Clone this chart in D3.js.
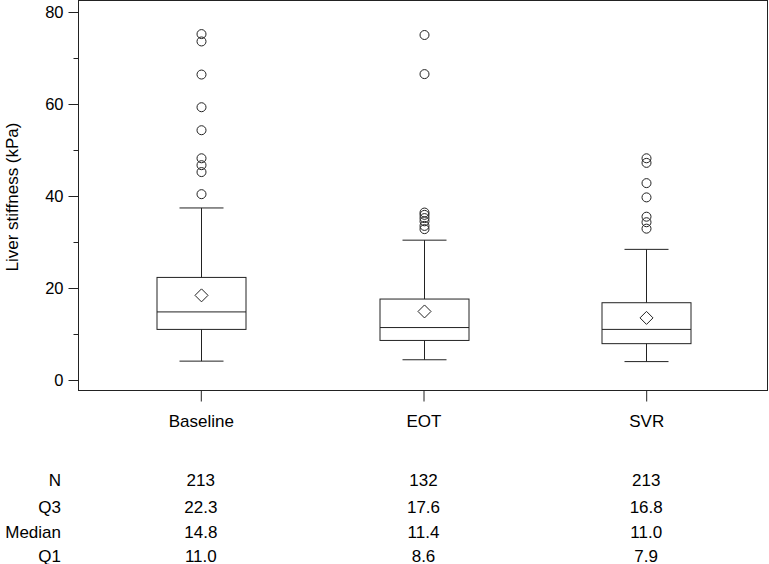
<!DOCTYPE html>
<html>
<head>
<meta charset="utf-8">
<script src="https://cdn.jsdelivr.net/npm/d3@7"></script>
<style>
  body { margin: 0; background: #fff; }
  text { font-family: "Liberation Sans", Arial, sans-serif; fill: #000; }
</style>
</head>
<body>
<div id="chart"></div>
<script>
// values
var categories = ["Baseline", "EOT", "SVR"];
var nValues = [213, 132, 213];
var q3Values = [22.3, 17.6, 16.8];
var medianValues = [14.8, 11.4, 11.0];
var q1Values = [11.0, 8.6, 7.9];
var whiskerHigh = [37.4, 30.4, 28.4];
var whiskerLow = [4.1, 4.4, 4.0];
var meanValues = [18.4, 14.9, 13.5];
var outliersBaseline = [75.2, 73.6, 66.4, 59.3, 54.3, 48.2, 46.7, 45.2, 40.4];
var outliersEOT = [75.0, 66.5, 36.4, 35.9, 35.2, 34.5, 33.5, 32.8];
var outliersSVR = [48.2, 47.2, 42.8, 39.7, 35.5, 34.3, 32.9];
var yTicks = [0, 20, 40, 60, 80];
var yMinorTicks = [10, 30, 50, 70];
var tableRows = ["N", "Q3", "Median", "Q1"];

var svgWidth = 769;
var svgHeight = 564;

var margin = { top: 1, right: 1, bottom: 173, left: 79 };
var width = svgWidth - margin.left - margin.right;
var height = svgHeight - margin.top - margin.bottom;

var svg = d3.select("#chart")
  .append("svg")
  .attr("width", svgWidth)
  .attr("height", svgHeight);

var chartGroup = svg.append("g")
  .attr("transform", `translate(${margin.left}, ${margin.top})`);

var xScale = d3.scalePoint()
  .domain(categories)
  .range([0, width])
  .padding(0.547);

var yScale = d3.scaleLinear()
  .domain([0, 80])
  .range([379, 11]);

var lineColor = "#222";
var fontSize = "17px";

// frame
chartGroup.append("rect")
  .attr("x", -0.5)
  .attr("y", -0.5)
  .attr("width", width)
  .attr("height", height)
  .attr("fill", "none")
  .attr("stroke", lineColor)
  .attr("stroke-width", 1);

// y axis
var leftAxis = d3.axisLeft(yScale).tickValues(yTicks).tickSize(10).tickPadding(5);
var yAxisG = chartGroup.append("g")
  .attr("transform", "translate(-0.5, 0)")
  .call(leftAxis);
yAxisG.select(".domain").remove();
yAxisG.selectAll("line").attr("stroke", lineColor);
yAxisG.selectAll("text").style("font-size", "16.5px").style("font-family", null);

var minorAxis = d3.axisLeft(yScale).tickValues(yMinorTicks).tickSize(5).tickFormat("");
var yMinorG = chartGroup.append("g")
  .attr("transform", "translate(-0.5, 0)")
  .call(minorAxis);
yMinorG.select(".domain").remove();
yMinorG.selectAll("line").attr("stroke", lineColor);

// x axis
var bottomAxis = d3.axisBottom(xScale).tickSize(11).tickPadding(13);
var xAxisG = chartGroup.append("g")
  .attr("transform", `translate(0, ${height - 0.5})`)
  .call(bottomAxis);
xAxisG.select(".domain").remove();
xAxisG.selectAll("line").attr("stroke", lineColor);
xAxisG.selectAll("text").style("font-size", fontSize).style("font-family", null);

// y label
chartGroup.append("text")
  .attr("transform", "rotate(-90)")
  .attr("x", -196)
  .attr("y", -61)
  .style("text-anchor", "middle")
  .style("font-size", fontSize)
  .text("Liver stiffness (kPa)");

// boxes
var boxWidth = 89;
var capWidth = 44;
var boxData = categories.map(function(c, i) {
  return { cat: c, q1: q1Values[i], med: medianValues[i], q3: q3Values[i],
           lo: whiskerLow[i], hi: whiskerHigh[i], mean: meanValues[i] };
});

var boxes = chartGroup.selectAll(".box")
  .data(boxData)
  .enter()
  .append("g")
  .attr("class", "box")
  .attr("transform", d => `translate(${Math.round(xScale(d.cat)) + 0.5}, 0)`);

boxes.append("line")
  .attr("x1", 0).attr("x2", 0)
  .attr("y1", d => yScale(d.hi)).attr("y2", d => yScale(d.q3))
  .attr("stroke", lineColor);
boxes.append("line")
  .attr("x1", 0).attr("x2", 0)
  .attr("y1", d => yScale(d.q1)).attr("y2", d => yScale(d.lo))
  .attr("stroke", lineColor);
boxes.append("line")
  .attr("x1", -capWidth / 2).attr("x2", capWidth / 2)
  .attr("y1", d => yScale(d.hi)).attr("y2", d => yScale(d.hi))
  .attr("stroke", lineColor);
boxes.append("line")
  .attr("x1", -capWidth / 2).attr("x2", capWidth / 2)
  .attr("y1", d => yScale(d.lo)).attr("y2", d => yScale(d.lo))
  .attr("stroke", lineColor);
boxes.append("rect")
  .attr("x", -boxWidth / 2)
  .attr("width", boxWidth)
  .attr("y", d => yScale(d.q3))
  .attr("height", d => yScale(d.q1) - yScale(d.q3))
  .attr("fill", "none")
  .attr("stroke", lineColor);
boxes.append("line")
  .attr("x1", -boxWidth / 2).attr("x2", boxWidth / 2)
  .attr("y1", d => yScale(d.med)).attr("y2", d => yScale(d.med))
  .attr("stroke", lineColor);

// mean diamonds
var dSize = 6.5;
boxes.append("path")
  .attr("d", d => {
    var y = yScale(d.mean);
    return `M0,${y - dSize}L${dSize},${y}L0,${y + dSize}L${-dSize},${y}Z`;
  })
  .attr("fill", "none")
  .attr("stroke", lineColor);

// outliers
var outlierSets = [outliersBaseline, outliersEOT, outliersSVR];
outlierSets.forEach(function(set, i) {
  chartGroup.selectAll(".out" + i)
    .data(set)
    .enter()
    .append("circle")
    .attr("class", "out" + i)
    .attr("cx", Math.round(xScale(categories[i])) + 0.5)
    .attr("cy", d => yScale(d))
    .attr("r", 4.5)
    .attr("fill", "none")
    .attr("stroke", lineColor);
});

// table under the chart
var tableValues = [
  nValues.map(String),
  q3Values.map(v => v.toFixed(1)),
  medianValues.map(v => v.toFixed(1)),
  q1Values.map(v => v.toFixed(1))
];
var rowY = [486, 512.5, 537.5, 561.5];

tableRows.forEach(function(label, r) {
  svg.append("text")
    .attr("x", 61)
    .attr("y", rowY[r])
    .style("text-anchor", "end")
    .style("font-size", fontSize)
    .text(label);

  svg.selectAll(".row" + r)
    .data(tableValues[r])
    .enter()
    .append("text")
    .attr("class", "row" + r)
    .attr("x", (d, i) => margin.left + xScale(categories[i]))
    .attr("y", rowY[r])
    .style("text-anchor", "middle")
    .style("font-size", fontSize)
    .text(d => d);
});
</script>
</body>
</html>
